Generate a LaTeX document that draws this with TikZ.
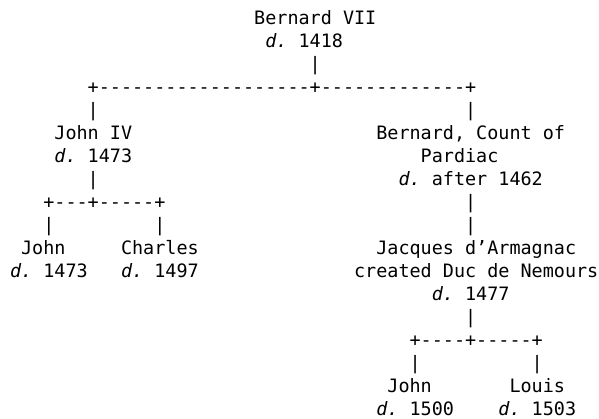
\documentclass[tikz,border=0pt]{standalone}
\usepackage{fontspec}
\setmonofont{DejaVu Sans Mono}
\frenchspacing
\begin{document}
% Character grid: column width 11.1pt, line pitch 22.95pt
\newcommand\cell[4]{%
  \node[glyphs, name=#1] at ({10+#2*11.1},{418-25-(#3-1)*22.95}) {#4};}
\newcommand\dd{{\itshape d.}}
\begin{tikzpicture}[x=1pt,y=1pt,
  glyphs/.style={anchor=base west, inner sep=0pt, outer sep=0pt,
    font=\ttfamily\frenchspacing\fontsize{18.44}{23}\selectfont, text=black}]
\fill[white] (0,0) rectangle (599,418);
\useasboundingbox (0,0) rectangle (599,418);

% Bernard VII
\cell{bernard-name}{22}{1}{Bernard VII}
\cell{bernard-death}{23}{2}{\dd{} 1418}
\cell{bar-top}{27}{3}{|}
\cell{fork-top}{7}{4}{+-------------------+-------------+}
\cell{bar-john4}{7}{5}{|}
\cell{bar-pardiac}{41}{5}{|}

% John IV and his sons
\cell{john4-name}{4}{6}{John IV}
\cell{john4-death}{4}{7}{\dd{} 1473}
\cell{bar-john4-down}{7}{8}{|}
\cell{fork-john4}{3}{9}{+---+-----+}
\cell{bar-john}{3}{10}{|}
\cell{bar-charles}{13}{10}{|}
\cell{john-name}{1}{11}{John}
\cell{john-death}{0}{12}{\dd{} 1473}
\cell{charles-name}{10}{11}{Charles}
\cell{charles-death}{10}{12}{\dd{} 1497}

% Bernard, Count of Pardiac
\cell{pardiac-name}{33}{6}{Bernard, Count of}
\cell{pardiac-name2}{37}{7}{Pardiac}
\cell{pardiac-death}{35}{8}{\dd{} after 1462}
\cell{bar-pardiac-a}{41}{9}{|}
\cell{bar-pardiac-b}{41}{10}{|}

% Jacques d'Armagnac and his sons
\cell{jacques-name}{33}{11}{Jacques d’Armagnac}
\cell{jacques-title}{31}{12}{created Duc de Nemours}
\cell{jacques-death}{38}{13}{\dd{} 1477}
\cell{bar-jacques}{41}{14}{|}
\cell{fork-jacques}{36}{15}{+----+-----+}
\cell{bar-john2}{36}{16}{|}
\cell{bar-louis}{47}{16}{|}
\cell{john2-name}{34}{17}{John}
\cell{john2-death}{33}{18}{\dd{} 1500}
\cell{louis-name}{45}{17}{Louis}
\cell{louis-death}{44}{18}{\dd{} 1503}
\end{tikzpicture}
\end{document}
